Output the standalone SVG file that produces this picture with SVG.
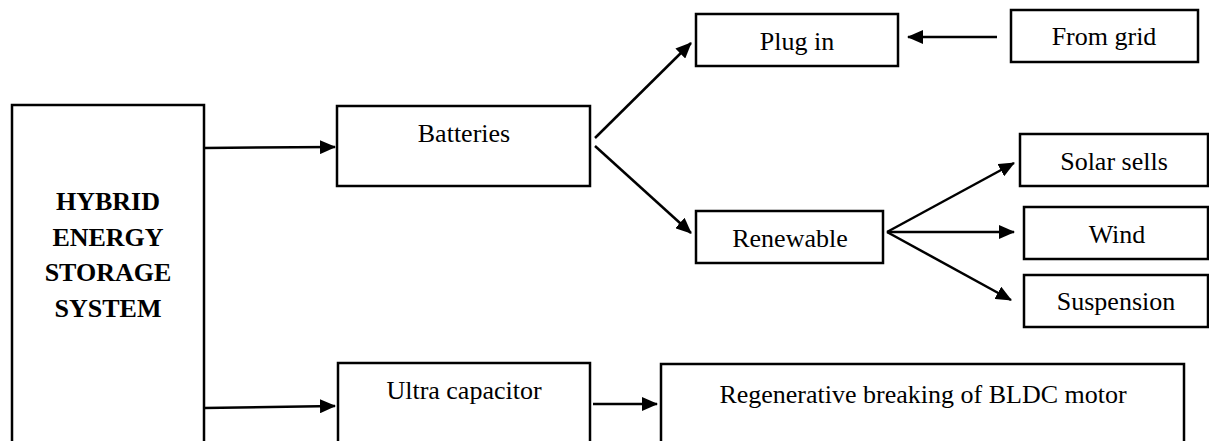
<svg xmlns="http://www.w3.org/2000/svg" width="1209" height="441" viewBox="0 0 1209 441">
<style>
.box{fill:#fff;stroke:#000;stroke-width:2.5}
.t{font-family:"Liberation Serif","Times New Roman",serif;font-size:26px;fill:#000;text-anchor:middle}
.b{font-weight:bold}
.c{stroke:#000;stroke-width:2.5;fill:none}
</style>
<defs>
<marker id="ah" markerUnits="userSpaceOnUse" markerWidth="16" markerHeight="14" refX="15" refY="7" orient="auto">
<path d="M0,0 L16,7 L0,14 Z" fill="#000"/>
</marker>
</defs>
<rect width="1209" height="441" fill="#fff"/>
<g id="hess">
<rect class="box" x="12" y="105" width="192" height="345"/>
<text class="t b" x="108" y="210">HYBRID</text>
<text class="t b" x="108" y="246">ENERGY</text>
<text class="t b" x="108" y="281">STORAGE</text>
<text class="t b" x="108" y="317">SYSTEM</text>
</g>
<g id="batteries">
<rect class="box" x="337" y="106" width="253" height="80"/>
<text class="t" x="464" y="142">Batteries</text>
</g>
<g id="plugin">
<rect class="box" x="696" y="14" width="202" height="52"/>
<text class="t" x="797" y="50">Plug in</text>
</g>
<g id="fromgrid">
<rect class="box" x="1011" y="10" width="187" height="52"/>
<text class="t" x="1104" y="45">From grid</text>
</g>
<g id="renewable">
<rect class="box" x="696" y="211" width="187" height="52"/>
<text class="t" x="790" y="247">Renewable</text>
</g>
<g id="solar">
<rect class="box" x="1020" y="134" width="188" height="52"/>
<text class="t" x="1114" y="170">Solar sells</text>
</g>
<g id="wind">
<rect class="box" x="1024" y="207" width="184" height="52"/>
<text class="t" x="1117" y="243">Wind</text>
</g>
<g id="suspension">
<rect class="box" x="1024" y="275" width="184" height="52"/>
<text class="t" x="1116" y="310">Suspension</text>
</g>
<g id="ultracap">
<rect class="box" x="338" y="363" width="252" height="90"/>
<text class="t" x="464" y="399">Ultra capacitor</text>
</g>
<g id="regen">
<rect class="box" x="661" y="364" width="523" height="90"/>
<text class="t" x="923" y="403">Regenerative breaking of BLDC motor</text>
</g>
<g id="connectors">
<line class="c" x1="204" y1="148" x2="335" y2="147" marker-end="url(#ah)"/>
<line class="c" x1="204" y1="408" x2="335" y2="406" marker-end="url(#ah)"/>
<line class="c" x1="595" y1="138" x2="691" y2="43" marker-end="url(#ah)"/>
<line class="c" x1="595" y1="146" x2="691" y2="233" marker-end="url(#ah)"/>
<line class="c" x1="997" y1="37" x2="908" y2="37" marker-end="url(#ah)"/>
<line class="c" x1="887" y1="232" x2="1014" y2="163" marker-end="url(#ah)"/>
<line class="c" x1="887" y1="232" x2="1014" y2="232" marker-end="url(#ah)"/>
<line class="c" x1="887" y1="232" x2="1011" y2="300" marker-end="url(#ah)"/>
<line class="c" x1="593" y1="404" x2="657" y2="404" marker-end="url(#ah)"/>
</g>
</svg>
